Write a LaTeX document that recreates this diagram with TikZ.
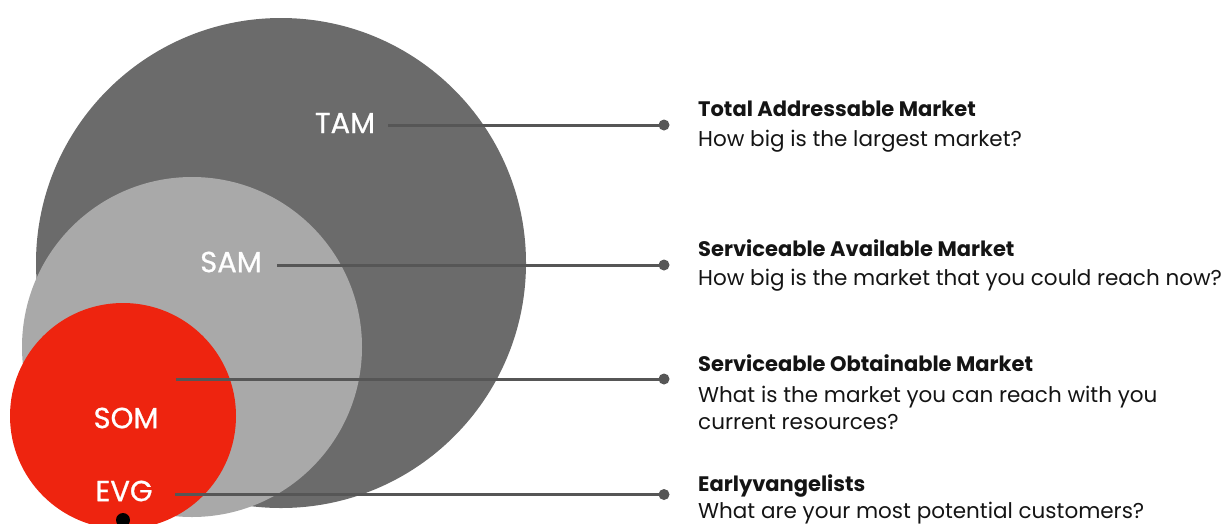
\documentclass[tikz,border=0pt]{standalone}
\usepackage{fontspec}
\setmainfont{Poppins}
\newfontfamily\lblfont[FakeBold=0.8]{Poppins}
\definecolor{tamgray}{HTML}{6B6B6B}
\definecolor{samgray}{HTML}{A9A9A9}
\definecolor{somred}{HTML}{EE240F}
\definecolor{linegray}{HTML}{565656}
\definecolor{txt}{HTML}{141414}
\begin{document}
\begin{tikzpicture}[x=1pt,y=-1pt,
  circ/.style={circle,inner sep=0pt,draw=none},
  lbl/.style={text=white,font=\lblfont\fontsize{29}{32}\selectfont,inner sep=0pt},
  conn/.style={draw=linegray,line width=3pt},
  dotnode/.style={circle,fill=linegray,inner sep=0pt,minimum size=11pt},
  ttl/.style={anchor=base west,inner sep=0pt,text=txt,font=\fontsize{21}{25}\selectfont\bfseries},
  sub/.style={anchor=base west,inner sep=0pt,text=txt,font=\fontsize{21.5}{26}\selectfont}]
\useasboundingbox (0,0) rectangle (1226,523);
\clip (0,0) rectangle (1226,523);
\node[circ,fill=tamgray,minimum size=490pt] (tam) at (281,263) {};
\node[circ,fill=samgray,minimum size=340pt] (sam) at (192,347) {};
\node[circ,fill=somred,minimum size=226pt] (som) at (123,416) {};
% labels
\node[lbl] (ltam) at (345,123) {TAM};
\node[lbl] (lsam) at (231,262) {SAM};
\node[lbl] (lsom) at (126,418) {SOM};
\node[lbl] (levg) at (124,491) {EVG};
% dots
\node[dotnode] (dtam) at (664,125) {};
\node[dotnode] (dsam) at (664,265) {};
\node[dotnode] (dsom) at (664,379) {};
\node[dotnode] (devg) at (664,494.5) {};
% connector start points
\coordinate (stam) at (388,125);
\coordinate (ssam) at (277,265);
\coordinate (ssom) at (176,379);
\coordinate (sevg) at (175,494.5);
% connectors
\draw[conn] (stam) -- (dtam.center);
\draw[conn] (ssam) -- (dsam.center);
\draw[conn] (ssom) -- (dsom.center);
\draw[conn] (sevg) -- (devg.center);
\node[circle,fill=black,inner sep=0pt,minimum size=14pt] (edot) at (123,520) {};
% texts
\node[ttl] (t1) at (698,116.5) {Total Addressable Market};
\node[sub] (s1) at (698,146.5) {How big is the largest market?};
\node[ttl] (t2) at (698,256.5) {Serviceable Available Market};
\node[sub] (s2) at (698,285.5) {How big is the market that you could reach now?};
\node[ttl] (t3) at (698,371.5) {Serviceable Obtainable Market};
\node[sub] (s3) at (698,402.5) {What is the market you can reach with you};
\node[sub] (s3b) at (698,429.5) {current resources?};
\node[ttl] (t4) at (698,491) {Earlyvangelists};
\node[sub] (s4) at (698,518.5) {What are your most potential customers?};
\end{tikzpicture}
\end{document}
